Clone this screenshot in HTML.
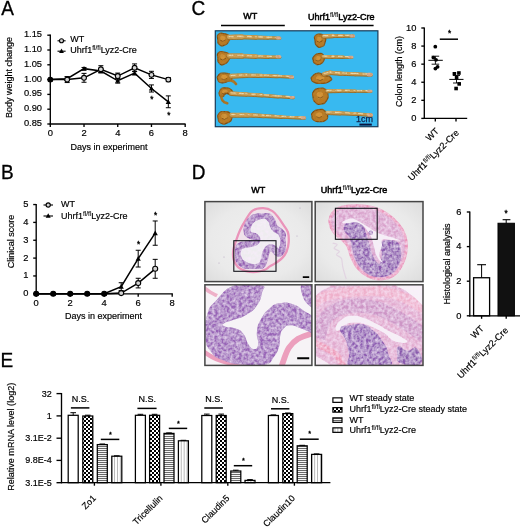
<!DOCTYPE html>
<html lang="en"><head><meta charset="utf-8"><title>Figure</title>
<style>html,body{margin:0;padding:0;background:#fff}svg{display:block}text{font-family:"Liberation Sans",Arial,sans-serif;fill:#000;stroke:#000;stroke-width:0.18px}</style></head><body>
<svg width="520" height="527" viewBox="0 0 520 527">
<defs>
<filter id="b05" x="-5%" y="-5%" width="110%" height="110%"><feGaussianBlur stdDeviation="0.45"/></filter>
<filter id="b08" x="-5%" y="-5%" width="110%" height="110%"><feGaussianBlur stdDeviation="0.7"/></filter>
<pattern id="pX" width="4" height="4" patternUnits="userSpaceOnUse"><rect width="4" height="4" fill="#fff"/><rect width="2" height="2" fill="#000"/><rect x="2" y="2" width="2" height="2" fill="#000"/></pattern>
<pattern id="pH" width="2" height="2" patternUnits="userSpaceOnUse"><rect width="2" height="2" fill="#f6f6f6"/><rect y="0" width="2" height="0.9" fill="#5a5a5a"/></pattern>
<pattern id="pV" width="2.9" height="2.9" patternUnits="userSpaceOnUse"><rect width="2.9" height="2.9" fill="#fff"/><path d="M1.45 0V2.9" stroke="#8a8a8a" stroke-width="0.6"/></pattern>
<filter id="texd" x="-3%" y="-3%" width="106%" height="106%"><feTurbulence type="fractalNoise" baseFrequency="0.4" numOctaves="2" seed="9" result="n"/><feColorMatrix in="n" type="matrix" values="0 0 0 0 0.45  0 0 0 0 0.24  0 0 0 0 0.04  1.2 0 0 0 -0.42" result="w"/><feComposite in="w" in2="SourceGraphic" operator="in" result="wi"/><feMerge><feMergeNode in="SourceGraphic"/><feMergeNode in="wi"/></feMerge><feGaussianBlur stdDeviation="0.5"/></filter>
<filter id="tex" x="-3%" y="-3%" width="106%" height="106%"><feTurbulence type="fractalNoise" baseFrequency="0.33" numOctaves="2" seed="4" result="n"/><feColorMatrix in="n" type="matrix" values="0 0 0 0 0.95  0 0 0 0 0.84  0 0 0 0 0.98  1.25 0 0 0 -0.36" result="w"/><feComposite in="w" in2="SourceGraphic" operator="in" result="wi"/><feMerge><feMergeNode in="SourceGraphic"/><feMergeNode in="wi"/></feMerge><feGaussianBlur stdDeviation="0.7"/></filter>
</defs>
<rect width="520" height="527" fill="#fff"/>
<text transform="translate(1.3 15.0) scale(0.97 1)" font-size="19.6" style="stroke-width:0.3px">A</text>
<line x1="50.30" y1="34.50" x2="50.30" y2="124.60" stroke="#000" stroke-width="1.35" />
<line x1="49.70" y1="124.00" x2="185.60" y2="124.00" stroke="#000" stroke-width="1.35" />
<line x1="47.30" y1="35.20" x2="50.30" y2="35.20" stroke="#000" stroke-width="1.35" />
<text x="42.0" y="37.20000000000002" text-anchor="end" font-size="9.3" >1.15</text>
<line x1="47.30" y1="50.00" x2="50.30" y2="50.00" stroke="#000" stroke-width="1.35" />
<text x="42.0" y="51.99999999999997" text-anchor="end" font-size="9.3" >1.10</text>
<line x1="47.30" y1="64.80" x2="50.30" y2="64.80" stroke="#000" stroke-width="1.35" />
<text x="42.0" y="66.79999999999998" text-anchor="end" font-size="9.3" >1.05</text>
<line x1="47.30" y1="79.60" x2="50.30" y2="79.60" stroke="#000" stroke-width="1.35" />
<text x="42.0" y="81.6" text-anchor="end" font-size="9.3" >1.00</text>
<line x1="47.30" y1="94.40" x2="50.30" y2="94.40" stroke="#000" stroke-width="1.35" />
<text x="42.0" y="96.4" text-anchor="end" font-size="9.3" >0.95</text>
<line x1="47.30" y1="109.20" x2="50.30" y2="109.20" stroke="#000" stroke-width="1.35" />
<text x="42.0" y="111.19999999999999" text-anchor="end" font-size="9.3" >0.90</text>
<line x1="47.30" y1="124.00" x2="50.30" y2="124.00" stroke="#000" stroke-width="1.35" />
<text x="42.0" y="126.0" text-anchor="end" font-size="9.3" >0.85</text>
<line x1="50.30" y1="124.00" x2="50.30" y2="127.00" stroke="#000" stroke-width="1.35" />
<text x="50.3" y="135.6" text-anchor="middle" font-size="9.4" >0</text>
<line x1="84.02" y1="124.00" x2="84.02" y2="127.00" stroke="#000" stroke-width="1.35" />
<text x="84.02" y="135.6" text-anchor="middle" font-size="9.4" >2</text>
<line x1="117.74" y1="124.00" x2="117.74" y2="127.00" stroke="#000" stroke-width="1.35" />
<text x="117.74" y="135.6" text-anchor="middle" font-size="9.4" >4</text>
<line x1="151.46" y1="124.00" x2="151.46" y2="127.00" stroke="#000" stroke-width="1.35" />
<text x="151.45999999999998" y="135.6" text-anchor="middle" font-size="9.4" >6</text>
<line x1="185.18" y1="124.00" x2="185.18" y2="127.00" stroke="#000" stroke-width="1.35" />
<text x="185.18" y="135.6" text-anchor="middle" font-size="9.4" >8</text>
<text transform="translate(12.0 77.4) rotate(-90)" text-anchor="middle" font-size="9" >Body weight change</text>
<text x="109" y="149.6" text-anchor="middle" font-size="9" >Days in experiment</text>
<polyline fill="none" stroke="#000" stroke-width="1.5" points="50.30,79.60 67.16,78.71 84.02,68.65 100.88,71.02 117.74,80.78 134.60,73.09 151.46,88.48 168.32,101.80"/>
<polyline fill="none" stroke="#000" stroke-width="1.5" points="50.30,79.60 67.16,79.60 84.02,77.82 100.88,69.24 117.74,76.05 134.60,67.76 151.46,74.86 168.32,79.60"/>
<line x1="67.16" y1="76.94" x2="67.16" y2="80.49" stroke="#000" stroke-width="1.0" />
<line x1="64.66" y1="76.94" x2="69.66" y2="76.94" stroke="#000" stroke-width="1.0" />
<line x1="64.66" y1="80.49" x2="69.66" y2="80.49" stroke="#000" stroke-width="1.0" />
<line x1="67.16" y1="76.64" x2="67.16" y2="82.56" stroke="#000" stroke-width="1.0" />
<line x1="64.66" y1="76.64" x2="69.66" y2="76.64" stroke="#000" stroke-width="1.0" />
<line x1="64.66" y1="82.56" x2="69.66" y2="82.56" stroke="#000" stroke-width="1.0" />
<line x1="84.02" y1="67.46" x2="84.02" y2="69.83" stroke="#000" stroke-width="1.0" />
<line x1="81.52" y1="67.46" x2="86.52" y2="67.46" stroke="#000" stroke-width="1.0" />
<line x1="81.52" y1="69.83" x2="86.52" y2="69.83" stroke="#000" stroke-width="1.0" />
<line x1="84.02" y1="73.38" x2="84.02" y2="82.26" stroke="#000" stroke-width="1.0" />
<line x1="81.52" y1="73.38" x2="86.52" y2="73.38" stroke="#000" stroke-width="1.0" />
<line x1="81.52" y1="82.26" x2="86.52" y2="82.26" stroke="#000" stroke-width="1.0" />
<line x1="100.88" y1="69.24" x2="100.88" y2="72.79" stroke="#000" stroke-width="1.0" />
<line x1="98.38" y1="69.24" x2="103.38" y2="69.24" stroke="#000" stroke-width="1.0" />
<line x1="98.38" y1="72.79" x2="103.38" y2="72.79" stroke="#000" stroke-width="1.0" />
<line x1="100.88" y1="65.69" x2="100.88" y2="72.79" stroke="#000" stroke-width="1.0" />
<line x1="98.38" y1="65.69" x2="103.38" y2="65.69" stroke="#000" stroke-width="1.0" />
<line x1="98.38" y1="72.79" x2="103.38" y2="72.79" stroke="#000" stroke-width="1.0" />
<line x1="117.74" y1="78.42" x2="117.74" y2="83.15" stroke="#000" stroke-width="1.0" />
<line x1="115.24" y1="78.42" x2="120.24" y2="78.42" stroke="#000" stroke-width="1.0" />
<line x1="115.24" y1="83.15" x2="120.24" y2="83.15" stroke="#000" stroke-width="1.0" />
<line x1="117.74" y1="73.09" x2="117.74" y2="79.01" stroke="#000" stroke-width="1.0" />
<line x1="115.24" y1="73.09" x2="120.24" y2="73.09" stroke="#000" stroke-width="1.0" />
<line x1="115.24" y1="79.01" x2="120.24" y2="79.01" stroke="#000" stroke-width="1.0" />
<line x1="134.60" y1="71.31" x2="134.60" y2="74.86" stroke="#000" stroke-width="1.0" />
<line x1="132.10" y1="71.31" x2="137.10" y2="71.31" stroke="#000" stroke-width="1.0" />
<line x1="132.10" y1="74.86" x2="137.10" y2="74.86" stroke="#000" stroke-width="1.0" />
<line x1="134.60" y1="63.91" x2="134.60" y2="71.61" stroke="#000" stroke-width="1.0" />
<line x1="132.10" y1="63.91" x2="137.10" y2="63.91" stroke="#000" stroke-width="1.0" />
<line x1="132.10" y1="71.61" x2="137.10" y2="71.61" stroke="#000" stroke-width="1.0" />
<line x1="151.46" y1="84.93" x2="151.46" y2="92.03" stroke="#000" stroke-width="1.0" />
<line x1="148.96" y1="84.93" x2="153.96" y2="84.93" stroke="#000" stroke-width="1.0" />
<line x1="148.96" y1="92.03" x2="153.96" y2="92.03" stroke="#000" stroke-width="1.0" />
<line x1="151.46" y1="71.31" x2="151.46" y2="78.42" stroke="#000" stroke-width="1.0" />
<line x1="148.96" y1="71.31" x2="153.96" y2="71.31" stroke="#000" stroke-width="1.0" />
<line x1="148.96" y1="78.42" x2="153.96" y2="78.42" stroke="#000" stroke-width="1.0" />
<line x1="168.32" y1="95.88" x2="168.32" y2="107.72" stroke="#000" stroke-width="1.0" />
<line x1="165.82" y1="95.88" x2="170.82" y2="95.88" stroke="#000" stroke-width="1.0" />
<line x1="165.82" y1="107.72" x2="170.82" y2="107.72" stroke="#000" stroke-width="1.0" />
<line x1="168.32" y1="77.53" x2="168.32" y2="81.67" stroke="#000" stroke-width="1.0" />
<line x1="165.82" y1="77.53" x2="170.82" y2="77.53" stroke="#000" stroke-width="1.0" />
<line x1="165.82" y1="81.67" x2="170.82" y2="81.67" stroke="#000" stroke-width="1.0" />
<path d="M50.30 77.00 L52.90 81.68 L47.70 81.68Z" fill="#000"/>
<path d="M67.16 76.11 L69.76 80.79 L64.56 80.79Z" fill="#000"/>
<path d="M84.02 66.05 L86.62 70.73 L81.42 70.73Z" fill="#000"/>
<path d="M100.88 68.42 L103.48 73.10 L98.28 73.10Z" fill="#000"/>
<path d="M117.74 78.18 L120.34 82.86 L115.14 82.86Z" fill="#000"/>
<path d="M134.60 70.49 L137.20 75.17 L132.00 75.17Z" fill="#000"/>
<path d="M151.46 85.88 L154.06 90.56 L148.86 90.56Z" fill="#000"/>
<path d="M168.32 99.20 L170.92 103.88 L165.72 103.88Z" fill="#000"/>
<circle cx="50.30" cy="79.60" r="2.4" fill="#000" stroke="#000" stroke-width="1.1"/>
<circle cx="67.16" cy="79.60" r="2.4" fill="#d4d4d4" stroke="#000" stroke-width="1.1"/>
<circle cx="84.02" cy="77.82" r="2.4" fill="#d4d4d4" stroke="#000" stroke-width="1.1"/>
<circle cx="100.88" cy="69.24" r="2.4" fill="#d4d4d4" stroke="#000" stroke-width="1.1"/>
<circle cx="117.74" cy="76.05" r="2.4" fill="#d4d4d4" stroke="#000" stroke-width="1.1"/>
<circle cx="134.60" cy="67.76" r="2.4" fill="#d4d4d4" stroke="#000" stroke-width="1.1"/>
<circle cx="151.46" cy="74.86" r="2.4" fill="#d4d4d4" stroke="#000" stroke-width="1.1"/>
<circle cx="168.32" cy="79.60" r="2.4" fill="#d4d4d4" stroke="#000" stroke-width="1.1"/>
<text x="151.86" y="101.50" text-anchor="middle" font-size="8.2" style="stroke-width:0.35px">*</text>
<text x="168.72" y="117.50" text-anchor="middle" font-size="8.2" style="stroke-width:0.35px">*</text>
<line x1="57.50" y1="40.80" x2="65.60" y2="40.80" stroke="#000" stroke-width="1.1" />
<circle cx="61.50" cy="40.80" r="2.0" fill="#d4d4d4" stroke="#000" stroke-width="1.1"/>
<line x1="57.50" y1="51.20" x2="65.60" y2="51.20" stroke="#000" stroke-width="1.1" />
<path d="M61.50 48.60 L63.90 52.92 L59.10 52.92Z" fill="#000"/>
<text x="70.3" y="42.4" text-anchor="start" font-size="9" >WT</text>
<text x="70.3" y="53.0" text-anchor="start" font-size="9" >Uhrf1<tspan dy="-3.1" font-size="6.5" style="stroke-width:0.08px">fl/fl</tspan><tspan dy="3.1">Lyz2-Cre</tspan></text>
<text transform="translate(1.0 178.7) scale(0.97 1)" font-size="19.6" style="stroke-width:0.3px">B</text>
<line x1="36.20" y1="203.95" x2="36.20" y2="294.40" stroke="#000" stroke-width="1.35" />
<line x1="35.60" y1="293.80" x2="172.80" y2="293.80" stroke="#000" stroke-width="1.35" />
<line x1="33.20" y1="293.80" x2="36.20" y2="293.80" stroke="#000" stroke-width="1.35" />
<text x="28.4" y="296.3" text-anchor="end" font-size="9.3" >0</text>
<line x1="33.20" y1="275.95" x2="36.20" y2="275.95" stroke="#000" stroke-width="1.35" />
<text x="28.4" y="278.45" text-anchor="end" font-size="9.3" >1</text>
<line x1="33.20" y1="258.10" x2="36.20" y2="258.10" stroke="#000" stroke-width="1.35" />
<text x="28.4" y="260.6" text-anchor="end" font-size="9.3" >2</text>
<line x1="33.20" y1="240.25" x2="36.20" y2="240.25" stroke="#000" stroke-width="1.35" />
<text x="28.4" y="242.75" text-anchor="end" font-size="9.3" >3</text>
<line x1="33.20" y1="222.40" x2="36.20" y2="222.40" stroke="#000" stroke-width="1.35" />
<text x="28.4" y="224.9" text-anchor="end" font-size="9.3" >4</text>
<line x1="33.20" y1="204.55" x2="36.20" y2="204.55" stroke="#000" stroke-width="1.35" />
<text x="28.4" y="207.05" text-anchor="end" font-size="9.3" >5</text>
<line x1="36.20" y1="293.80" x2="36.20" y2="296.80" stroke="#000" stroke-width="1.35" />
<text x="36.2" y="305.9" text-anchor="middle" font-size="9.4" >0</text>
<line x1="70.20" y1="293.80" x2="70.20" y2="296.80" stroke="#000" stroke-width="1.35" />
<text x="70.2" y="305.9" text-anchor="middle" font-size="9.4" >2</text>
<line x1="104.20" y1="293.80" x2="104.20" y2="296.80" stroke="#000" stroke-width="1.35" />
<text x="104.2" y="305.9" text-anchor="middle" font-size="9.4" >4</text>
<line x1="138.20" y1="293.80" x2="138.20" y2="296.80" stroke="#000" stroke-width="1.35" />
<text x="138.2" y="305.9" text-anchor="middle" font-size="9.4" >6</text>
<line x1="172.20" y1="293.80" x2="172.20" y2="296.80" stroke="#000" stroke-width="1.35" />
<text x="172.2" y="305.9" text-anchor="middle" font-size="9.4" >8</text>
<text transform="translate(14.2 241.6) rotate(-90)" text-anchor="middle" font-size="9" >Clinical score</text>
<text x="103.5" y="319.0" text-anchor="middle" font-size="9" >Days in experiment</text>
<polyline fill="none" stroke="#000" stroke-width="1.5" points="36.20,293.80 53.20,293.80 70.20,293.80 87.20,293.80 104.20,293.80 121.20,286.66 138.20,258.64 155.20,233.11"/>
<polyline fill="none" stroke="#000" stroke-width="1.5" points="36.20,293.80 53.20,293.80 70.20,293.80 87.20,293.80 104.20,293.80 121.20,293.09 138.20,283.09 155.20,268.81"/>
<line x1="121.20" y1="282.73" x2="121.20" y2="290.59" stroke="#000" stroke-width="1.0" />
<line x1="118.70" y1="282.73" x2="123.70" y2="282.73" stroke="#000" stroke-width="1.0" />
<line x1="118.70" y1="290.59" x2="123.70" y2="290.59" stroke="#000" stroke-width="1.0" />
<line x1="138.20" y1="250.25" x2="138.20" y2="267.02" stroke="#000" stroke-width="1.0" />
<line x1="135.70" y1="250.25" x2="140.70" y2="250.25" stroke="#000" stroke-width="1.0" />
<line x1="135.70" y1="267.02" x2="140.70" y2="267.02" stroke="#000" stroke-width="1.0" />
<line x1="138.20" y1="278.27" x2="138.20" y2="287.91" stroke="#000" stroke-width="1.0" />
<line x1="135.70" y1="278.27" x2="140.70" y2="278.27" stroke="#000" stroke-width="1.0" />
<line x1="135.70" y1="287.91" x2="140.70" y2="287.91" stroke="#000" stroke-width="1.0" />
<line x1="155.20" y1="220.97" x2="155.20" y2="245.25" stroke="#000" stroke-width="1.0" />
<line x1="152.70" y1="220.97" x2="157.70" y2="220.97" stroke="#000" stroke-width="1.0" />
<line x1="152.70" y1="245.25" x2="157.70" y2="245.25" stroke="#000" stroke-width="1.0" />
<line x1="155.20" y1="259.35" x2="155.20" y2="278.27" stroke="#000" stroke-width="1.0" />
<line x1="152.70" y1="259.35" x2="157.70" y2="259.35" stroke="#000" stroke-width="1.0" />
<line x1="152.70" y1="278.27" x2="157.70" y2="278.27" stroke="#000" stroke-width="1.0" />
<path d="M36.20 291.20 L38.80 295.88 L33.60 295.88Z" fill="#000"/>
<path d="M53.20 291.20 L55.80 295.88 L50.60 295.88Z" fill="#000"/>
<path d="M70.20 291.20 L72.80 295.88 L67.60 295.88Z" fill="#000"/>
<path d="M87.20 291.20 L89.80 295.88 L84.60 295.88Z" fill="#000"/>
<path d="M104.20 291.20 L106.80 295.88 L101.60 295.88Z" fill="#000"/>
<path d="M121.20 284.06 L123.80 288.74 L118.60 288.74Z" fill="#000"/>
<path d="M138.20 256.04 L140.80 260.72 L135.60 260.72Z" fill="#000"/>
<path d="M155.20 230.51 L157.80 235.19 L152.60 235.19Z" fill="#000"/>
<circle cx="36.20" cy="293.80" r="2.5" fill="#000" stroke="#000" stroke-width="1.1"/>
<circle cx="53.20" cy="293.80" r="2.5" fill="#000" stroke="#000" stroke-width="1.1"/>
<circle cx="70.20" cy="293.80" r="2.5" fill="#000" stroke="#000" stroke-width="1.1"/>
<circle cx="87.20" cy="293.80" r="2.5" fill="#000" stroke="#000" stroke-width="1.1"/>
<circle cx="104.20" cy="293.80" r="2.5" fill="#000" stroke="#000" stroke-width="1.1"/>
<circle cx="121.20" cy="293.09" r="2.5" fill="#d4d4d4" stroke="#000" stroke-width="1.1"/>
<circle cx="138.20" cy="283.09" r="2.5" fill="#d4d4d4" stroke="#000" stroke-width="1.1"/>
<circle cx="155.20" cy="268.81" r="2.5" fill="#d4d4d4" stroke="#000" stroke-width="1.1"/>
<text x="138.60" y="247.30" text-anchor="middle" font-size="8.2" style="stroke-width:0.35px">*</text>
<text x="155.60" y="218.20" text-anchor="middle" font-size="8.2" style="stroke-width:0.35px">*</text>
<line x1="43.50" y1="205.00" x2="53.00" y2="205.00" stroke="#000" stroke-width="1.1" />
<circle cx="48.20" cy="205.00" r="2.1" fill="#d4d4d4" stroke="#000" stroke-width="1.1"/>
<line x1="43.50" y1="216.00" x2="53.00" y2="216.00" stroke="#000" stroke-width="1.1" />
<path d="M48.20 213.30 L50.70 217.80 L45.70 217.80Z" fill="#000"/>
<text x="61.0" y="207.2" text-anchor="start" font-size="9" >WT</text>
<text x="61.0" y="218.8" text-anchor="start" font-size="9" >Uhrf1<tspan dy="-3.1" font-size="6.5" style="stroke-width:0.08px">fl/fl</tspan><tspan dy="3.1">Lyz2-Cre</tspan></text>
<text transform="translate(191.6 15.2) scale(0.97 1)" font-size="19.6" style="stroke-width:0.3px">C</text>
<text x="250.3" y="19.4" text-anchor="middle" font-size="9" style="stroke-width:0.5px">WT</text>
<text x="341.2" y="19.9" text-anchor="middle" font-size="9" style="stroke-width:0.5px">Uhrf1<tspan dy="-3.1" font-size="6.5" style="stroke-width:0.08px">fl/fl</tspan><tspan dy="3.1">Lyz2-Cre</tspan></text>
<line x1="221.00" y1="25.40" x2="284.80" y2="25.40" stroke="#000" stroke-width="1.5" />
<line x1="310.00" y1="25.50" x2="373.60" y2="25.50" stroke="#000" stroke-width="1.5" />
<rect x="215.3" y="30.8" width="162.6" height="95.9" fill="#38b9f0" stroke="#173a58" stroke-width="1.2"/>
<g filter="url(#texd)">
<path d="M218.4 34.4C220.5 32.5 220.3 32.9 224.0 33.6C227.7 34.3 228.1 34.0 229.6 36.6C231.1 39.2 230.3 38.5 228.6 41.4C226.9 44.3 227.5 44.2 224.4 45.2C221.3 46.2 221.4 46.3 219.2 44.4C217.0 42.5 218.1 42.7 217.8 39.4C217.5 36.1 216.3 36.3 218.4 34.4Z" fill="#b97824" stroke="#7e4c18" stroke-width="1.2" stroke-linejoin="round"/>
<path d="M220.7 36.4C221.5 35.6 221.4 35.8 223.0 36.1C224.6 36.4 224.7 36.3 225.4 37.4C226.0 38.4 225.7 38.2 224.9 39.4C224.2 40.6 224.5 40.5 223.2 41.0C221.9 41.4 221.9 41.4 221.0 40.6C220.1 39.8 220.5 39.9 220.4 38.5C220.3 37.1 219.8 37.2 220.7 36.4Z" fill="#d59438"/>
<path d="M220.5 40.5 Q222.7 42.7 225.5 40.1" fill="none" stroke="#7a4814" stroke-width="0.9" stroke-linecap="round"/>
<line x1="229" y1="37.550000000000004" x2="242" y2="37.15" stroke="#9a6c2a" stroke-width="5.10" stroke-linecap="round"/>
<line x1="242" y1="37.15" x2="256" y2="37.550000000000004" stroke="#9a6c2a" stroke-width="4.40" stroke-linecap="round"/>
<line x1="256" y1="37.550000000000004" x2="268" y2="37.95" stroke="#9a6c2a" stroke-width="3.70" stroke-linecap="round"/>
<line x1="268" y1="37.95" x2="279.8" y2="38.35" stroke="#9a6c2a" stroke-width="3.00" stroke-linecap="round"/>
<line x1="229" y1="36.95" x2="242" y2="36.55" stroke="#cfa45c" stroke-width="4.30" stroke-linecap="round"/>
<line x1="242" y1="36.55" x2="256" y2="36.95" stroke="#cfa45c" stroke-width="3.60" stroke-linecap="round"/>
<line x1="256" y1="36.95" x2="268" y2="37.35" stroke="#cfa45c" stroke-width="2.90" stroke-linecap="round"/>
<line x1="268" y1="37.35" x2="279.8" y2="37.75" stroke="#cfa45c" stroke-width="2.20" stroke-linecap="round"/>
<line x1="229" y1="36.7" x2="242" y2="36.3" stroke="#ead7aa" stroke-width="1.2" stroke-dasharray="4 4.5" stroke-dashoffset="0" stroke-linecap="round"/>
<line x1="242" y1="36.3" x2="256" y2="36.7" stroke="#ead7aa" stroke-width="1.2" stroke-dasharray="4 4.5" stroke-dashoffset="3" stroke-linecap="round"/>
<line x1="256" y1="36.7" x2="268" y2="37.1" stroke="#ead7aa" stroke-width="1.2" stroke-dasharray="4 4.5" stroke-dashoffset="6" stroke-linecap="round"/>
<line x1="268" y1="37.1" x2="279.8" y2="37.5" stroke="#ead7aa" stroke-width="1.2" stroke-dasharray="4 4.5" stroke-dashoffset="9" stroke-linecap="round"/>
<line x1="277.3" y1="38.0" x2="279.8" y2="38.0" stroke="#dcae94" stroke-width="3.00" stroke-linecap="round"/>
<path d="M218.4 52.8C220.5 50.8 220.3 51.3 224.0 52.0C227.7 52.7 228.1 52.3 229.6 55.0C231.1 57.7 230.4 57.1 228.6 60.2C226.8 63.3 227.3 63.2 224.2 64.2C221.1 65.2 221.3 65.3 219.2 63.2C217.1 61.1 218.1 61.5 217.8 58.0C217.5 54.5 216.3 54.8 218.4 52.8Z" fill="#b97824" stroke="#7e4c18" stroke-width="1.2" stroke-linejoin="round"/>
<path d="M220.6 55.0C221.5 54.1 221.4 54.3 223.0 54.6C224.6 54.9 224.7 54.7 225.3 55.9C226.0 57.0 225.7 56.8 224.9 58.1C224.2 59.4 224.4 59.3 223.1 59.8C221.8 60.2 221.9 60.2 221.0 59.3C220.1 58.5 220.5 58.6 220.4 57.2C220.3 55.7 219.8 55.8 220.6 55.0Z" fill="#d59438"/>
<path d="M220.5 59.1 Q222.7 61.3 225.5 58.7" fill="none" stroke="#7a4814" stroke-width="0.9" stroke-linecap="round"/>
<line x1="229" y1="56.15" x2="242" y2="56.15" stroke="#9a6c2a" stroke-width="5.10" stroke-linecap="round"/>
<line x1="242" y1="56.15" x2="256" y2="56.75" stroke="#9a6c2a" stroke-width="4.40" stroke-linecap="round"/>
<line x1="256" y1="56.75" x2="268" y2="57.15" stroke="#9a6c2a" stroke-width="3.70" stroke-linecap="round"/>
<line x1="268" y1="57.15" x2="279.8" y2="57.15" stroke="#9a6c2a" stroke-width="3.00" stroke-linecap="round"/>
<line x1="229" y1="55.55" x2="242" y2="55.55" stroke="#cfa45c" stroke-width="4.30" stroke-linecap="round"/>
<line x1="242" y1="55.55" x2="256" y2="56.15" stroke="#cfa45c" stroke-width="3.60" stroke-linecap="round"/>
<line x1="256" y1="56.15" x2="268" y2="56.55" stroke="#cfa45c" stroke-width="2.90" stroke-linecap="round"/>
<line x1="268" y1="56.55" x2="279.8" y2="56.55" stroke="#cfa45c" stroke-width="2.20" stroke-linecap="round"/>
<line x1="229" y1="55.3" x2="242" y2="55.3" stroke="#ead7aa" stroke-width="1.2" stroke-dasharray="4 4.5" stroke-dashoffset="0" stroke-linecap="round"/>
<line x1="242" y1="55.3" x2="256" y2="55.9" stroke="#ead7aa" stroke-width="1.2" stroke-dasharray="4 4.5" stroke-dashoffset="3" stroke-linecap="round"/>
<line x1="256" y1="55.9" x2="268" y2="56.3" stroke="#ead7aa" stroke-width="1.2" stroke-dasharray="4 4.5" stroke-dashoffset="6" stroke-linecap="round"/>
<line x1="268" y1="56.3" x2="279.8" y2="56.3" stroke="#ead7aa" stroke-width="1.2" stroke-dasharray="4 4.5" stroke-dashoffset="9" stroke-linecap="round"/>
<line x1="277.3" y1="56.8" x2="279.8" y2="56.8" stroke="#dcae94" stroke-width="3.00" stroke-linecap="round"/>
<path d="M218.6 75.0C220.7 72.9 219.9 73.3 224.0 73.2C228.1 73.1 228.3 73.0 231.0 74.8C233.7 76.6 233.3 76.3 232.0 78.6C230.7 80.9 230.7 80.3 227.0 81.6C223.3 82.9 224.1 83.3 221.0 82.6C217.9 81.9 218.6 82.1 217.8 79.6C217.0 77.1 216.5 77.1 218.6 75.0Z" fill="#b97824" stroke="#7e4c18" stroke-width="1.2" stroke-linejoin="round"/>
<path d="M221.5 75.9C222.4 75.0 222.0 75.2 223.8 75.1C225.5 75.1 225.6 75.1 226.7 75.8C227.8 76.6 227.7 76.5 227.1 77.4C226.6 78.4 226.6 78.1 225.0 78.7C223.5 79.2 223.8 79.4 222.5 79.1C221.2 78.8 221.5 78.9 221.2 77.8C220.8 76.8 220.6 76.8 221.5 75.9Z" fill="#d59438"/>
<path d="M221.9 79.1 Q224.1 81.3 226.9 78.7" fill="none" stroke="#7a4814" stroke-width="0.9" stroke-linecap="round"/>
<path d="M226 80.4 Q232.4 79.2 236 84" fill="none" stroke="#a86f24" stroke-width="2.6" stroke-linecap="round"/>
<line x1="231" y1="76.35" x2="246" y2="75.75" stroke="#9a6c2a" stroke-width="4.70" stroke-linecap="round"/>
<line x1="246" y1="75.75" x2="262" y2="75.94999999999999" stroke="#9a6c2a" stroke-width="4.13" stroke-linecap="round"/>
<line x1="262" y1="75.94999999999999" x2="278" y2="76.55" stroke="#9a6c2a" stroke-width="3.57" stroke-linecap="round"/>
<line x1="278" y1="76.55" x2="292.6" y2="77.35" stroke="#9a6c2a" stroke-width="3.00" stroke-linecap="round"/>
<line x1="231" y1="75.75" x2="246" y2="75.15" stroke="#cfa45c" stroke-width="3.90" stroke-linecap="round"/>
<line x1="246" y1="75.15" x2="262" y2="75.35" stroke="#cfa45c" stroke-width="3.33" stroke-linecap="round"/>
<line x1="262" y1="75.35" x2="278" y2="75.95" stroke="#cfa45c" stroke-width="2.77" stroke-linecap="round"/>
<line x1="278" y1="75.95" x2="292.6" y2="76.75" stroke="#cfa45c" stroke-width="2.20" stroke-linecap="round"/>
<line x1="231" y1="75.5" x2="246" y2="74.9" stroke="#ead7aa" stroke-width="1.2" stroke-dasharray="4 4.5" stroke-dashoffset="0" stroke-linecap="round"/>
<line x1="246" y1="74.9" x2="262" y2="75.1" stroke="#ead7aa" stroke-width="1.2" stroke-dasharray="4 4.5" stroke-dashoffset="3" stroke-linecap="round"/>
<line x1="262" y1="75.1" x2="278" y2="75.7" stroke="#ead7aa" stroke-width="1.2" stroke-dasharray="4 4.5" stroke-dashoffset="6" stroke-linecap="round"/>
<line x1="278" y1="75.7" x2="292.6" y2="76.5" stroke="#ead7aa" stroke-width="1.2" stroke-dasharray="4 4.5" stroke-dashoffset="9" stroke-linecap="round"/>
<line x1="290.1" y1="77.0" x2="292.6" y2="77.0" stroke="#dcae94" stroke-width="3.00" stroke-linecap="round"/>
<path d="M220.2 90.0C222.0 87.5 221.3 87.9 225.0 87.8C228.7 87.7 229.4 87.8 231.4 89.8C233.4 91.8 233.0 92.5 231.0 93.8C229.0 95.1 228.0 92.7 225.4 93.6C222.8 94.5 225.1 95.8 223.2 96.4C221.3 97.0 220.6 97.5 219.6 95.4C218.6 93.3 218.4 92.5 220.2 90.0Z" fill="#b97824" stroke="#7e4c18" stroke-width="1.2" stroke-linejoin="round"/>
<path d="M222.6 90.6C223.3 89.5 223.0 89.7 224.6 89.7C226.1 89.6 226.4 89.7 227.3 90.5C228.1 91.3 227.9 91.7 227.1 92.2C226.2 92.7 225.8 91.7 224.7 92.1C223.6 92.5 224.6 93.0 223.8 93.3C223.0 93.5 222.7 93.8 222.3 92.9C221.9 92.0 221.8 91.7 222.6 90.6Z" fill="#d59438"/>
<path d="M222.5 93.6 Q224.7 95.8 227.5 93.2" fill="none" stroke="#7a4814" stroke-width="0.9" stroke-linecap="round"/>
<path d="M221.4 95 Q220.6 102 227.2 103.2" fill="none" stroke="#a86f24" stroke-width="2.6" stroke-linecap="round"/>
<line x1="231" y1="93.75" x2="246" y2="94.55" stroke="#9a6c2a" stroke-width="4.30" stroke-linecap="round"/>
<line x1="246" y1="94.55" x2="262" y2="95.55" stroke="#9a6c2a" stroke-width="3.80" stroke-linecap="round"/>
<line x1="262" y1="95.55" x2="278" y2="96.75" stroke="#9a6c2a" stroke-width="3.30" stroke-linecap="round"/>
<line x1="278" y1="96.75" x2="293.4" y2="97.75" stroke="#9a6c2a" stroke-width="2.80" stroke-linecap="round"/>
<line x1="231" y1="93.15" x2="246" y2="93.95" stroke="#cfa45c" stroke-width="3.50" stroke-linecap="round"/>
<line x1="246" y1="93.95" x2="262" y2="94.95" stroke="#cfa45c" stroke-width="3.00" stroke-linecap="round"/>
<line x1="262" y1="94.95" x2="278" y2="96.15" stroke="#cfa45c" stroke-width="2.50" stroke-linecap="round"/>
<line x1="278" y1="96.15" x2="293.4" y2="97.15" stroke="#cfa45c" stroke-width="2.00" stroke-linecap="round"/>
<line x1="231" y1="92.9" x2="246" y2="93.7" stroke="#ead7aa" stroke-width="1.2" stroke-dasharray="4 4.5" stroke-dashoffset="0" stroke-linecap="round"/>
<line x1="246" y1="93.7" x2="262" y2="94.7" stroke="#ead7aa" stroke-width="1.2" stroke-dasharray="4 4.5" stroke-dashoffset="3" stroke-linecap="round"/>
<line x1="262" y1="94.7" x2="278" y2="95.9" stroke="#ead7aa" stroke-width="1.2" stroke-dasharray="4 4.5" stroke-dashoffset="6" stroke-linecap="round"/>
<line x1="278" y1="95.9" x2="293.4" y2="96.9" stroke="#ead7aa" stroke-width="1.2" stroke-dasharray="4 4.5" stroke-dashoffset="9" stroke-linecap="round"/>
<line x1="290.9" y1="97.4" x2="293.4" y2="97.4" stroke="#dcae94" stroke-width="2.80" stroke-linecap="round"/>
<path d="M219.0 113.4C221.1 111.1 220.7 111.5 224.6 111.6C228.5 111.7 228.4 111.3 230.8 113.6C233.2 115.9 232.9 115.3 231.8 118.4C230.7 121.5 231.2 121.2 227.6 122.8C224.0 124.4 224.1 124.6 221.0 123.2C217.9 121.8 218.9 121.9 218.2 118.6C217.5 115.3 216.9 115.7 219.0 113.4Z" fill="#b97824" stroke="#7e4c18" stroke-width="1.2" stroke-linejoin="round"/>
<path d="M221.8 114.9C222.7 113.9 222.5 114.1 224.2 114.1C225.8 114.2 225.8 114.0 226.8 115.0C227.8 115.9 227.6 115.7 227.2 117.0C226.7 118.3 226.9 118.2 225.4 118.9C223.9 119.5 224.0 119.6 222.7 119.0C221.3 118.4 221.8 118.5 221.5 117.1C221.2 115.7 220.9 115.9 221.8 114.9Z" fill="#d59438"/>
<path d="M222.1 118.6 Q224.3 120.8 227.1 118.2" fill="none" stroke="#7a4814" stroke-width="0.9" stroke-linecap="round"/>
<line x1="231.4" y1="115.35" x2="248" y2="115.35" stroke="#9a6c2a" stroke-width="4.70" stroke-linecap="round"/>
<line x1="248" y1="115.35" x2="264" y2="116.14999999999999" stroke="#9a6c2a" stroke-width="4.13" stroke-linecap="round"/>
<line x1="264" y1="116.14999999999999" x2="282" y2="117.14999999999999" stroke="#9a6c2a" stroke-width="3.57" stroke-linecap="round"/>
<line x1="282" y1="117.14999999999999" x2="304.6" y2="118.14999999999999" stroke="#9a6c2a" stroke-width="3.00" stroke-linecap="round"/>
<line x1="231.4" y1="114.75" x2="248" y2="114.75" stroke="#cfa45c" stroke-width="3.90" stroke-linecap="round"/>
<line x1="248" y1="114.75" x2="264" y2="115.55" stroke="#cfa45c" stroke-width="3.33" stroke-linecap="round"/>
<line x1="264" y1="115.55" x2="282" y2="116.55" stroke="#cfa45c" stroke-width="2.77" stroke-linecap="round"/>
<line x1="282" y1="116.55" x2="304.6" y2="117.55" stroke="#cfa45c" stroke-width="2.20" stroke-linecap="round"/>
<line x1="231.4" y1="114.5" x2="248" y2="114.5" stroke="#ead7aa" stroke-width="1.2" stroke-dasharray="4 4.5" stroke-dashoffset="0" stroke-linecap="round"/>
<line x1="248" y1="114.5" x2="264" y2="115.3" stroke="#ead7aa" stroke-width="1.2" stroke-dasharray="4 4.5" stroke-dashoffset="3" stroke-linecap="round"/>
<line x1="264" y1="115.3" x2="282" y2="116.3" stroke="#ead7aa" stroke-width="1.2" stroke-dasharray="4 4.5" stroke-dashoffset="6" stroke-linecap="round"/>
<line x1="282" y1="116.3" x2="304.6" y2="117.3" stroke="#ead7aa" stroke-width="1.2" stroke-dasharray="4 4.5" stroke-dashoffset="9" stroke-linecap="round"/>
<line x1="302.1" y1="117.8" x2="304.6" y2="117.8" stroke="#dcae94" stroke-width="3.00" stroke-linecap="round"/>
<path d="M315.2 35.8C316.9 33.7 316.9 34.0 320.0 34.2C323.1 34.4 322.9 33.7 324.6 36.4C326.3 39.1 326.1 38.9 325.0 42.4C323.9 45.9 324.2 45.7 321.4 46.8C318.6 47.9 318.7 47.7 316.6 45.6C314.5 43.5 315.5 43.7 315.0 40.4C314.5 37.1 313.5 37.9 315.2 35.8Z" fill="#b97824" stroke="#7e4c18" stroke-width="1.2" stroke-linejoin="round"/>
<path d="M317.3 37.6C318.0 36.7 318.0 36.8 319.3 36.9C320.6 37.0 320.5 36.7 321.2 37.8C321.9 39.0 321.9 38.9 321.4 40.3C321.0 41.8 321.1 41.7 319.9 42.2C318.7 42.6 318.8 42.6 317.9 41.7C317.0 40.8 317.4 40.9 317.2 39.5C317.0 38.1 316.6 38.4 317.3 37.6Z" fill="#d59438"/>
<path d="M317.1 41.4 Q319.3 43.6 322.1 41.0" fill="none" stroke="#7a4814" stroke-width="0.9" stroke-linecap="round"/>
<line x1="323.6" y1="36.550000000000004" x2="333" y2="36.15" stroke="#9a6c2a" stroke-width="4.30" stroke-linecap="round"/>
<line x1="333" y1="36.15" x2="343" y2="36.15" stroke="#9a6c2a" stroke-width="3.65" stroke-linecap="round"/>
<line x1="343" y1="36.15" x2="353.6" y2="36.25" stroke="#9a6c2a" stroke-width="3.00" stroke-linecap="round"/>
<line x1="323.6" y1="35.95" x2="333" y2="35.55" stroke="#cfa45c" stroke-width="3.50" stroke-linecap="round"/>
<line x1="333" y1="35.55" x2="343" y2="35.55" stroke="#cfa45c" stroke-width="2.85" stroke-linecap="round"/>
<line x1="343" y1="35.55" x2="353.6" y2="35.65" stroke="#cfa45c" stroke-width="2.20" stroke-linecap="round"/>
<line x1="323.6" y1="35.7" x2="333" y2="35.3" stroke="#ead7aa" stroke-width="1.2" stroke-dasharray="4 4.5" stroke-dashoffset="0" stroke-linecap="round"/>
<line x1="333" y1="35.3" x2="343" y2="35.3" stroke="#ead7aa" stroke-width="1.2" stroke-dasharray="4 4.5" stroke-dashoffset="3" stroke-linecap="round"/>
<line x1="343" y1="35.3" x2="353.6" y2="35.4" stroke="#ead7aa" stroke-width="1.2" stroke-dasharray="4 4.5" stroke-dashoffset="6" stroke-linecap="round"/>
<line x1="351.1" y1="35.9" x2="353.6" y2="35.9" stroke="#dcae94" stroke-width="3.00" stroke-linecap="round"/>
<path d="M313.8 56.6C315.6 54.4 315.3 54.0 318.6 53.6C321.9 53.2 321.9 53.1 323.6 55.4C325.3 57.7 325.0 57.5 323.8 60.4C322.6 63.3 322.9 63.1 320.0 64.2C317.1 65.3 317.5 64.9 315.2 63.6C312.9 62.3 313.7 62.5 313.2 60.2C312.7 57.9 312.0 58.8 313.8 56.6Z" fill="#b97824" stroke="#7e4c18" stroke-width="1.2" stroke-linejoin="round"/>
<path d="M315.9 57.3C316.7 56.4 316.6 56.2 317.9 56.0C319.3 55.8 319.3 55.8 320.0 56.8C320.8 57.7 320.6 57.6 320.1 58.9C319.6 60.1 319.7 60.0 318.5 60.5C317.3 60.9 317.5 60.8 316.5 60.2C315.6 59.7 315.9 59.8 315.7 58.8C315.5 57.8 315.2 58.2 315.9 57.3Z" fill="#d59438"/>
<path d="M315.7 60.3 Q317.9 62.5 320.7 59.9" fill="none" stroke="#7a4814" stroke-width="0.9" stroke-linecap="round"/>
<line x1="323" y1="56.95" x2="333" y2="57.15" stroke="#9a6c2a" stroke-width="3.70" stroke-linecap="round"/>
<line x1="333" y1="57.15" x2="343" y2="57.35" stroke="#9a6c2a" stroke-width="3.25" stroke-linecap="round"/>
<line x1="343" y1="57.35" x2="352" y2="57.550000000000004" stroke="#9a6c2a" stroke-width="2.80" stroke-linecap="round"/>
<line x1="323" y1="56.35" x2="333" y2="56.55" stroke="#cfa45c" stroke-width="2.90" stroke-linecap="round"/>
<line x1="333" y1="56.55" x2="343" y2="56.75" stroke="#cfa45c" stroke-width="2.45" stroke-linecap="round"/>
<line x1="343" y1="56.75" x2="352" y2="56.95" stroke="#cfa45c" stroke-width="2.00" stroke-linecap="round"/>
<line x1="323" y1="56.1" x2="333" y2="56.3" stroke="#ead7aa" stroke-width="1.2" stroke-dasharray="4 4.5" stroke-dashoffset="0" stroke-linecap="round"/>
<line x1="333" y1="56.3" x2="343" y2="56.5" stroke="#ead7aa" stroke-width="1.2" stroke-dasharray="4 4.5" stroke-dashoffset="3" stroke-linecap="round"/>
<line x1="343" y1="56.5" x2="352" y2="56.7" stroke="#ead7aa" stroke-width="1.2" stroke-dasharray="4 4.5" stroke-dashoffset="6" stroke-linecap="round"/>
<line x1="349.5" y1="57.2" x2="352" y2="57.2" stroke="#dcae94" stroke-width="2.80" stroke-linecap="round"/>
<path d="M312.4 76.4C314.5 74.3 314.1 73.5 318.0 73.2C321.9 72.9 319.8 74.0 324.0 75.4C328.2 76.8 328.8 75.4 330.6 77.4C332.4 79.4 332.3 79.4 329.4 81.4C326.5 83.4 327.0 83.1 322.0 83.4C317.0 83.7 317.9 83.7 314.4 82.4C310.9 81.1 312.3 81.6 311.6 79.6C310.9 77.6 310.3 78.5 312.4 76.4Z" fill="#b97824" stroke="#7e4c18" stroke-width="1.2" stroke-linejoin="round"/>
<path d="M316.5 76.9C317.4 76.0 317.2 75.7 318.8 75.6C320.5 75.4 319.6 75.9 321.4 76.5C323.1 77.1 323.4 76.5 324.1 77.3C324.9 78.2 324.8 78.2 323.6 79.0C322.4 79.8 322.6 79.7 320.5 79.8C318.4 80.0 318.8 80.0 317.3 79.4C315.9 78.9 316.4 79.1 316.1 78.2C315.9 77.4 315.6 77.8 316.5 76.9Z" fill="#d59438"/>
<path d="M317.7 79.9 Q319.9 82.1 322.7 79.5" fill="none" stroke="#7a4814" stroke-width="0.9" stroke-linecap="round"/>
<line x1="324" y1="74.35" x2="330" y2="72.94999999999999" stroke="#9a6c2a" stroke-width="4.50" stroke-linecap="round"/>
<line x1="330" y1="72.94999999999999" x2="340" y2="73.75" stroke="#9a6c2a" stroke-width="4.20" stroke-linecap="round"/>
<line x1="340" y1="73.75" x2="355" y2="74.35" stroke="#9a6c2a" stroke-width="3.90" stroke-linecap="round"/>
<line x1="355" y1="74.35" x2="371" y2="74.94999999999999" stroke="#9a6c2a" stroke-width="3.60" stroke-linecap="round"/>
<line x1="324" y1="73.75" x2="330" y2="72.35" stroke="#cfa45c" stroke-width="3.70" stroke-linecap="round"/>
<line x1="330" y1="72.35" x2="340" y2="73.15" stroke="#cfa45c" stroke-width="3.40" stroke-linecap="round"/>
<line x1="340" y1="73.15" x2="355" y2="73.75" stroke="#cfa45c" stroke-width="3.10" stroke-linecap="round"/>
<line x1="355" y1="73.75" x2="371" y2="74.35" stroke="#cfa45c" stroke-width="2.80" stroke-linecap="round"/>
<line x1="324" y1="73.5" x2="330" y2="72.1" stroke="#ead7aa" stroke-width="1.2" stroke-dasharray="4 4.5" stroke-dashoffset="0" stroke-linecap="round"/>
<line x1="330" y1="72.1" x2="340" y2="72.9" stroke="#ead7aa" stroke-width="1.2" stroke-dasharray="4 4.5" stroke-dashoffset="3" stroke-linecap="round"/>
<line x1="340" y1="72.9" x2="355" y2="73.5" stroke="#ead7aa" stroke-width="1.2" stroke-dasharray="4 4.5" stroke-dashoffset="6" stroke-linecap="round"/>
<line x1="355" y1="73.5" x2="371" y2="74.1" stroke="#ead7aa" stroke-width="1.2" stroke-dasharray="4 4.5" stroke-dashoffset="9" stroke-linecap="round"/>
<line x1="368.5" y1="74.6" x2="371" y2="74.6" stroke="#dcae94" stroke-width="3.60" stroke-linecap="round"/>
<path d="M313.6 91.4C315.6 88.5 315.0 89.0 319.0 88.4C323.0 87.8 322.7 87.6 325.6 89.6C328.5 91.6 327.4 90.9 327.8 94.4C328.2 97.9 328.9 97.0 326.8 100.2C324.7 103.4 325.3 103.2 321.6 104.0C317.9 104.8 318.5 104.9 315.6 102.6C312.7 100.3 313.7 100.7 313.0 97.0C312.3 93.3 311.6 94.3 313.6 91.4Z" fill="#b97824" stroke="#7e4c18" stroke-width="1.2" stroke-linejoin="round"/>
<path d="M317.0 93.2C317.9 92.0 317.6 92.2 319.3 92.0C321.0 91.7 320.8 91.6 322.1 92.5C323.3 93.3 322.8 93.0 323.0 94.5C323.2 96.0 323.4 95.6 322.6 96.9C321.7 98.3 322.0 98.2 320.4 98.5C318.8 98.9 319.1 98.9 317.9 97.9C316.7 97.0 317.1 97.2 316.8 95.6C316.5 94.0 316.2 94.4 317.0 93.2Z" fill="#d59438"/>
<path d="M317.8 97.2 Q320.0 99.4 322.8 96.8" fill="none" stroke="#7a4814" stroke-width="0.9" stroke-linecap="round"/>
<line x1="327" y1="91.35" x2="340" y2="91.14999999999999" stroke="#9a6c2a" stroke-width="3.90" stroke-linecap="round"/>
<line x1="340" y1="91.14999999999999" x2="355" y2="91.35" stroke="#9a6c2a" stroke-width="3.35" stroke-linecap="round"/>
<line x1="355" y1="91.35" x2="371" y2="91.55" stroke="#9a6c2a" stroke-width="2.80" stroke-linecap="round"/>
<line x1="327" y1="90.75" x2="340" y2="90.55" stroke="#cfa45c" stroke-width="3.10" stroke-linecap="round"/>
<line x1="340" y1="90.55" x2="355" y2="90.75" stroke="#cfa45c" stroke-width="2.55" stroke-linecap="round"/>
<line x1="355" y1="90.75" x2="371" y2="90.95" stroke="#cfa45c" stroke-width="2.00" stroke-linecap="round"/>
<line x1="327" y1="90.5" x2="340" y2="90.3" stroke="#ead7aa" stroke-width="1.2" stroke-dasharray="4 4.5" stroke-dashoffset="0" stroke-linecap="round"/>
<line x1="340" y1="90.3" x2="355" y2="90.5" stroke="#ead7aa" stroke-width="1.2" stroke-dasharray="4 4.5" stroke-dashoffset="3" stroke-linecap="round"/>
<line x1="355" y1="90.5" x2="371" y2="90.7" stroke="#ead7aa" stroke-width="1.2" stroke-dasharray="4 4.5" stroke-dashoffset="6" stroke-linecap="round"/>
<line x1="368.5" y1="91.2" x2="371" y2="91.2" stroke="#dcae94" stroke-width="2.80" stroke-linecap="round"/>
<path d="M312.6 112.6C314.8 110.5 314.4 110.1 318.6 109.6C322.8 109.1 322.2 109.2 325.2 111.2C328.2 113.2 327.5 112.6 327.6 115.6C327.7 118.6 328.4 118.2 325.6 120.2C322.8 122.2 323.2 121.7 319.2 121.6C315.2 121.5 316.0 121.9 313.6 120.0C311.2 118.1 312.3 118.5 312.0 116.0C311.7 113.5 310.4 114.7 312.6 112.6Z" fill="#b97824" stroke="#7e4c18" stroke-width="1.2" stroke-linejoin="round"/>
<path d="M316.0 113.7C316.9 112.8 316.7 112.6 318.5 112.4C320.3 112.2 320.0 112.3 321.3 113.1C322.5 113.9 322.2 113.7 322.3 114.9C322.3 116.2 322.6 116.0 321.4 116.9C320.3 117.7 320.4 117.5 318.8 117.5C317.1 117.4 317.4 117.6 316.4 116.8C315.4 116.0 315.9 116.1 315.7 115.1C315.6 114.1 315.1 114.6 316.0 113.7Z" fill="#d59438"/>
<path d="M316.7 117.0 Q318.9 119.2 321.7 116.6" fill="none" stroke="#7a4814" stroke-width="0.9" stroke-linecap="round"/>
<line x1="327" y1="112.94999999999999" x2="340" y2="113.35" stroke="#9a6c2a" stroke-width="4.10" stroke-linecap="round"/>
<line x1="340" y1="113.35" x2="356" y2="114.14999999999999" stroke="#9a6c2a" stroke-width="3.65" stroke-linecap="round"/>
<line x1="356" y1="114.14999999999999" x2="371.4" y2="115.35" stroke="#9a6c2a" stroke-width="3.20" stroke-linecap="round"/>
<line x1="327" y1="112.35" x2="340" y2="112.75" stroke="#cfa45c" stroke-width="3.30" stroke-linecap="round"/>
<line x1="340" y1="112.75" x2="356" y2="113.55" stroke="#cfa45c" stroke-width="2.85" stroke-linecap="round"/>
<line x1="356" y1="113.55" x2="371.4" y2="114.75" stroke="#cfa45c" stroke-width="2.40" stroke-linecap="round"/>
<line x1="327" y1="112.1" x2="340" y2="112.5" stroke="#ead7aa" stroke-width="1.2" stroke-dasharray="4 4.5" stroke-dashoffset="0" stroke-linecap="round"/>
<line x1="340" y1="112.5" x2="356" y2="113.3" stroke="#ead7aa" stroke-width="1.2" stroke-dasharray="4 4.5" stroke-dashoffset="3" stroke-linecap="round"/>
<line x1="356" y1="113.3" x2="371.4" y2="114.5" stroke="#ead7aa" stroke-width="1.2" stroke-dasharray="4 4.5" stroke-dashoffset="6" stroke-linecap="round"/>
<line x1="368.9" y1="115.0" x2="371.4" y2="115.0" stroke="#dcae94" stroke-width="3.20" stroke-linecap="round"/>
</g>
<text x="364.6" y="122.4" text-anchor="middle" font-size="9" style="fill:#10204a;stroke:#10204a;stroke-width:0.25px">1cm</text>
<line x1="359.40" y1="124.60" x2="371.80" y2="124.60" stroke="#0a1540" stroke-width="2.0" />
<line x1="424.30" y1="27.40" x2="424.30" y2="119.00" stroke="#000" stroke-width="1.35" />
<line x1="423.70" y1="118.40" x2="467.20" y2="118.40" stroke="#000" stroke-width="1.35" />
<line x1="421.30" y1="118.40" x2="424.30" y2="118.40" stroke="#000" stroke-width="1.35" />
<text x="416.4" y="121.4" text-anchor="end" font-size="9.3" >0</text>
<line x1="421.30" y1="100.32" x2="424.30" y2="100.32" stroke="#000" stroke-width="1.35" />
<text x="416.4" y="103.32000000000001" text-anchor="end" font-size="9.3" >2</text>
<line x1="421.30" y1="82.24" x2="424.30" y2="82.24" stroke="#000" stroke-width="1.35" />
<text x="416.4" y="85.24000000000001" text-anchor="end" font-size="9.3" >4</text>
<line x1="421.30" y1="64.16" x2="424.30" y2="64.16" stroke="#000" stroke-width="1.35" />
<text x="416.4" y="67.16000000000001" text-anchor="end" font-size="9.3" >6</text>
<line x1="421.30" y1="46.08" x2="424.30" y2="46.08" stroke="#000" stroke-width="1.35" />
<text x="416.4" y="49.08000000000001" text-anchor="end" font-size="9.3" >8</text>
<line x1="421.30" y1="28.00" x2="424.30" y2="28.00" stroke="#000" stroke-width="1.35" />
<text x="416.4" y="31.000000000000014" text-anchor="end" font-size="9.3" >10</text>
<line x1="435.30" y1="118.40" x2="435.30" y2="121.40" stroke="#000" stroke-width="1.35" />
<line x1="456.00" y1="118.40" x2="456.00" y2="121.40" stroke="#000" stroke-width="1.35" />
<text transform="translate(401.8 71.6) rotate(-90)" text-anchor="middle" font-size="9" >Colon length (cm)</text>
<circle cx="435.3" cy="46.7" r="1.9" fill="#000"/>
<circle cx="433.4" cy="57.6" r="1.9" fill="#000"/>
<circle cx="436.0" cy="59.8" r="1.9" fill="#000"/>
<circle cx="437.6" cy="66.8" r="1.9" fill="#000"/>
<circle cx="435.4" cy="68.6" r="1.9" fill="#000"/>
<line x1="428.40" y1="60.30" x2="442.80" y2="60.30" stroke="#000" stroke-width="1.0" />
<line x1="435.40" y1="56.20" x2="435.40" y2="64.20" stroke="#000" stroke-width="0.9" />
<line x1="431.60" y1="56.20" x2="439.20" y2="56.20" stroke="#000" stroke-width="0.9" />
<line x1="431.60" y1="64.20" x2="439.20" y2="64.20" stroke="#000" stroke-width="0.9" />
<rect x="452.59999999999997" y="72.0" width="3.6" height="3.6" fill="#000"/>
<rect x="457.09999999999997" y="71.2" width="3.6" height="3.6" fill="#000"/>
<rect x="454.8" y="75.8" width="3.6" height="3.6" fill="#000"/>
<rect x="457.4" y="82.10000000000001" width="3.6" height="3.6" fill="#000"/>
<rect x="454.3" y="86.7" width="3.6" height="3.6" fill="#000"/>
<line x1="449.30" y1="79.40" x2="463.50" y2="79.40" stroke="#000" stroke-width="1.0" />
<line x1="456.50" y1="75.50" x2="456.50" y2="83.00" stroke="#000" stroke-width="0.9" />
<line x1="453.00" y1="75.50" x2="460.00" y2="75.50" stroke="#000" stroke-width="0.9" />
<line x1="453.00" y1="83.00" x2="460.00" y2="83.00" stroke="#000" stroke-width="0.9" />
<line x1="439.80" y1="39.20" x2="458.00" y2="39.20" stroke="#000" stroke-width="1.5" />
<text x="449.70" y="36.10" text-anchor="middle" font-size="8.2" style="stroke-width:0.35px">*</text>
<text transform="translate(439.4 131.6) rotate(-45)" text-anchor="end" font-size="9" >WT</text>
<text transform="translate(459.6 133.4) rotate(-45)" text-anchor="end" font-size="9.2" >Uhrf1<tspan dy="-3.1" font-size="6.5" style="stroke-width:0.08px">fl/fl</tspan><tspan dy="3.1">Lyz2-Cre</tspan></text>
<text transform="translate(191.8 178.7) scale(0.97 1)" font-size="19.6" style="stroke-width:0.3px">D</text>
<text x="258.2" y="193.0" text-anchor="middle" font-size="9" style="stroke-width:0.5px">WT</text>
<text x="354.0" y="192.6" text-anchor="middle" font-size="9" style="stroke-width:0.5px">Uhrf1<tspan dy="-3.1" font-size="6.5" style="stroke-width:0.08px">fl/fl</tspan><tspan dy="3.1">Lyz2-Cre</tspan></text>
<defs>
<clipPath id="hc0"><rect x="204.9" y="201.6" width="107.0" height="80.0"/></clipPath>
<clipPath id="hc1"><rect x="315.2" y="201.6" width="107.8" height="80.0"/></clipPath>
<clipPath id="hc2"><rect x="204.9" y="284.8" width="107.0" height="80.6"/></clipPath>
<clipPath id="hc3"><rect x="315.2" y="284.8" width="107.8" height="80.6"/></clipPath>
<radialGradient id="gbg" cx="0.5" cy="0.5" r="0.75"><stop offset="0" stop-color="#f0f0f0"/><stop offset="0.6" stop-color="#eaeaea"/><stop offset="1" stop-color="#dadada"/></radialGradient>
</defs>
<g clip-path="url(#hc0)">
<rect x="204.9" y="201.6" width="107.0" height="80.0" fill="url(#gbg)"/>
<g filter="url(#b08)">
<path d="M252.6 210.6C255.5 208.7 259.9 208.1 263.2 208.2C266.5 208.3 270.0 209.5 272.5 211.1C275.0 212.7 276.7 215.3 278.5 217.6C280.3 219.9 281.8 222.5 283.4 224.9C285.0 227.4 287.0 229.3 287.9 232.2C288.8 235.1 288.9 239.0 288.7 242.2C288.5 245.4 287.7 248.8 286.6 251.5C285.5 254.1 283.9 256.2 282.1 258.1C280.3 260.0 277.9 261.5 275.8 262.9C273.8 264.3 271.7 265.2 269.8 266.4C268.0 267.5 267.0 268.9 264.8 269.8C262.6 270.7 259.7 271.7 256.6 271.9C253.4 272.2 249.0 271.9 245.9 271.1C242.8 270.3 240.0 269.1 238.0 267.2C235.9 265.2 234.4 262.3 233.6 259.4C232.8 256.6 232.9 253.3 233.3 250.2C233.7 247.1 234.9 244.2 236.0 240.9C237.1 237.5 238.3 233.8 240.0 230.2C241.6 226.7 243.8 222.9 245.9 219.6C248.0 216.3 249.7 212.5 252.6 210.6Z" fill="#f0e2ea" stroke="#ea94ba" stroke-width="2.3"/>
</g>
<g filter="url(#tex)">
<path d="M256.6 217.0C259.7 216.0 260.6 214.6 264.5 215.4C268.4 216.1 268.5 216.6 271.2 219.9C273.8 223.1 271.7 223.9 274.5 227.6C277.3 231.2 279.3 229.7 281.8 233.6C284.3 237.4 283.8 237.8 283.8 242.2C283.8 246.6 283.4 247.2 281.8 250.2C280.2 253.1 279.9 253.4 277.8 253.1C275.7 252.7 276.1 250.1 273.8 248.8C271.5 247.5 271.3 247.1 269.2 248.2C267.1 249.2 267.2 249.8 265.9 252.8C264.5 255.8 265.5 256.1 264.3 259.4C263.0 262.8 264.0 263.3 261.2 265.4C258.4 267.5 258.3 267.5 253.9 267.4C249.5 267.3 248.8 267.5 244.6 265.0C240.4 262.5 239.9 262.4 238.2 258.1C236.5 253.8 236.9 252.4 238.2 248.8C239.6 245.3 239.8 246.3 243.3 244.8C246.8 243.4 247.7 244.6 251.2 243.5C254.8 242.5 255.5 242.6 256.6 240.9C257.6 239.1 257.2 238.5 255.2 236.9C253.3 235.3 251.5 236.7 249.3 234.9C247.1 233.1 247.2 233.2 247.0 230.2C246.8 227.2 247.1 226.6 248.6 223.6C250.1 220.6 250.5 220.7 252.6 218.9C254.7 217.2 253.4 217.9 256.6 217.0Z" fill="#eeecef" stroke="#9560b4" stroke-width="7.0" stroke-linejoin="round"/>
</g>
<rect x="233.8" y="240.7" width="42.2" height="30.6" fill="none" stroke="#15151c" stroke-width="1.1"/>
<line x1="302.80" y1="277.20" x2="309.20" y2="277.20" stroke="#000" stroke-width="1.8" />
<circle cx="219" cy="263" r="0.6" fill="#b8a8c4"/>
<circle cx="224" cy="257" r="0.6" fill="#b8a8c4"/>
<circle cx="297" cy="236" r="0.6" fill="#b8a8c4"/>
<circle cx="300" cy="208" r="0.6" fill="#b8a8c4"/>
</g>
<g clip-path="url(#hc1)">
<rect x="315.2" y="201.6" width="107.8" height="80.0" fill="url(#gbg)"/>
<g filter="url(#tex)">
<path d="M329.8 222.0C329.5 218.9 330.5 215.8 332.4 213.4C334.3 210.9 337.0 208.6 341.0 207.3C345.1 206.0 351.4 205.6 356.6 205.6C361.8 205.6 367.3 206.0 372.2 207.3C377.1 208.6 381.7 210.6 386.0 213.4C390.3 216.1 395.0 220.0 398.1 223.8C401.3 227.5 403.7 231.3 405.0 235.9C406.4 240.5 406.7 246.5 406.1 251.4C405.5 256.3 403.8 261.2 401.6 265.3C399.4 269.3 396.4 273.4 392.9 275.7C389.5 278.0 384.9 279.0 380.8 279.1C376.8 279.3 372.5 278.3 368.7 276.5C365.0 274.8 361.2 272.1 358.3 268.7C355.4 265.4 353.1 260.4 351.4 256.6C349.7 252.9 349.4 249.0 348.0 246.3C346.5 243.5 345.1 242.5 342.8 240.2C340.5 237.9 336.3 235.4 334.1 232.4C331.9 229.4 330.1 225.2 329.8 222.0Z" fill="#d9a2cc" stroke="#ea94ba" stroke-width="2.8"/>
<path d="M345.4 223.4C347.0 221.8 351.2 221.1 354.0 221.2C356.8 221.3 359.9 221.4 362.1 224.1C364.4 226.8 365.6 232.5 367.3 237.6C369.1 242.7 370.6 250.5 372.5 254.9C374.5 259.3 377.5 263.9 379.1 263.9C380.7 263.9 381.6 258.4 381.9 254.9C382.1 251.4 379.8 245.6 380.8 243.1C381.8 240.7 384.9 240.1 387.7 240.0C390.6 240.0 395.9 240.3 398.1 242.8C400.4 245.3 401.5 250.6 401.2 254.9C401.0 259.2 399.0 265.3 396.7 268.7C394.5 272.2 391.3 274.3 387.7 275.7C384.2 277.0 379.4 277.3 375.6 276.7C371.9 276.1 368.4 274.7 365.3 272.2C362.1 269.7 358.7 265.6 356.6 261.8C354.5 258.1 353.6 253.7 352.4 249.7C351.3 245.7 351.1 240.8 349.7 237.6C348.3 234.4 344.9 233.0 344.1 230.7C343.4 228.3 343.7 225.0 345.4 223.4Z" fill="#8a58ae"/>
<path d="M342.4 222.4C343.0 221.3 347.2 219.1 350.5 218.6C353.9 218.1 353.4 218.7 356.9 220.3C360.5 221.9 361.6 223.1 365.6 225.5C369.6 227.9 370.7 228.8 373.9 230.7C377.1 232.5 375.4 231.9 379.4 233.4C383.5 235.0 386.4 235.6 391.2 237.3C396.0 238.9 400.2 239.7 400.2 240.4C400.2 241.0 395.3 240.2 391.2 240.0C387.1 239.9 384.7 238.2 382.6 239.7C380.4 241.1 382.6 242.7 381.9 246.3C381.1 249.8 379.3 251.1 379.4 254.9C379.6 258.7 383.1 262.1 382.6 262.5C382.0 262.9 379.0 260.4 377.0 256.6C375.0 252.8 375.2 250.7 373.9 246.3C372.6 241.8 373.0 241.2 371.5 237.6C369.9 234.0 369.5 233.6 367.3 230.7C365.1 227.8 364.8 227.1 362.1 225.1C359.5 223.2 359.2 222.9 355.9 222.4C352.6 221.9 351.1 223.1 348.0 223.1C344.8 223.1 341.8 223.4 342.4 222.4Z" fill="#f4eff5"/>
<circle cx="370.8" cy="232.8" r="2.2" fill="#8a58ae"/>
</g>
<path d="M332.7 243.1C333.5 243.4 337.0 243.7 337.2 244.5C337.5 245.4 333.8 247.2 334.1 248.3C334.5 249.5 338.9 250.3 339.3 251.4C339.7 252.5 336.2 253.7 336.5 254.9C336.9 256.1 340.3 256.3 341.4 258.4C342.4 260.4 342.0 263.6 342.8 267.0C343.6 270.5 345.6 277.1 346.2 279.1" fill="none" stroke="#e0cfe0" stroke-width="1.2" filter="url(#b05)" opacity="0.8"/>
<rect x="335.4" y="208.3" width="41.8" height="31.0" fill="none" stroke="#15151c" stroke-width="1.1"/>
</g>
<g clip-path="url(#hc2)">
<rect x="204.9" y="284.8" width="107.0" height="80.6" fill="#f6f3f6"/>
<g filter="url(#b08)">
<path d="M204.0 352.0C206.1 353.2 211.4 357.0 216.7 359.2C222.0 361.3 228.3 363.1 235.7 364.7C243.1 366.2 256.9 367.8 261.1 368.5" fill="none" stroke="#ec9fbd" stroke-width="4.6"/>
<path d="M316.1 332.1C313.1 333.2 302.7 336.2 298.1 338.8C293.6 341.5 291.4 344.3 289.0 347.7C286.7 351.1 285.4 355.5 284.0 359.2C282.6 362.8 281.1 368.0 280.6 369.7" fill="none" stroke="#ec9fbd" stroke-width="5.8"/>
<path d="M204.0 287.7C205.1 288.4 208.2 291.0 210.3 292.3C212.5 293.6 216.0 295.1 217.1 295.7" fill="none" stroke="#eeb0c8" stroke-width="3.6"/>
</g>
<g filter="url(#tex)">
<path d="M260.7 285.1C253.7 283.1 247.5 281.2 235.7 285.1C224.0 289.1 224.3 292.0 216.7 299.9C209.1 307.8 210.2 305.1 207.2 314.7C204.1 324.3 204.4 326.3 205.3 335.9C206.1 345.5 205.6 344.2 210.3 350.7C215.1 357.2 213.4 356.4 223.0 360.2C232.6 364.1 235.0 363.9 246.3 365.1C257.6 366.3 258.0 366.8 265.3 364.7C272.7 362.5 270.1 361.9 273.8 357.0C277.5 352.2 277.4 352.1 279.1 346.5C280.8 340.8 279.0 340.6 280.2 335.9C281.3 331.1 280.7 331.5 283.5 328.7C286.4 325.9 286.0 325.4 290.7 325.3C295.5 325.3 294.5 326.5 301.3 328.5C308.1 330.5 312.2 335.1 316.1 332.9C320.1 330.7 319.5 326.2 316.1 320.2C312.7 314.3 309.6 314.8 303.4 310.5C297.2 306.2 299.1 306.1 292.9 304.2C286.6 302.2 286.4 302.0 280.2 303.1C274.0 304.2 274.7 304.2 269.6 308.4C264.5 312.6 264.5 312.8 261.1 319.0C257.7 325.2 257.7 324.9 256.9 331.7C256.1 338.4 258.9 339.7 258.2 344.3C257.4 349.0 256.5 349.0 253.9 349.0C251.3 349.0 251.2 348.4 248.4 344.3C245.6 340.3 246.7 338.0 243.3 333.8C240.0 329.5 240.8 330.5 235.7 328.5C230.7 326.5 227.4 327.6 224.3 326.2C221.3 324.7 221.8 324.9 224.3 323.2C226.8 321.5 227.8 322.1 233.6 319.8C239.5 317.6 240.1 318.6 246.3 314.7C252.5 310.9 252.7 311.3 256.9 305.4C261.1 299.6 260.9 298.1 262.0 292.7C263.0 287.3 267.7 287.1 260.7 285.1Z" fill="#9863b7"/>
<path d="M301.7 284.7C304.0 282.9 313.7 280.9 316.1 284.7C318.5 288.5 317.5 304.3 316.1 307.5C314.7 310.8 309.9 306.1 307.7 304.2C305.4 302.2 303.6 298.9 302.6 295.7C301.6 292.4 299.5 286.5 301.7 284.7Z" fill="#9863b7"/>
</g>
<line x1="297.20" y1="358.20" x2="309.20" y2="358.20" stroke="#000" stroke-width="2.0" />
</g>
<g clip-path="url(#hc3)">
<rect x="315.2" y="284.8" width="107.8" height="80.6" fill="#e0a9cd"/>
<g filter="url(#tex)">
<rect x="315.2" y="284.8" width="107.8" height="80.6" fill="#e2abcf"/>
<path d="M314.0 303.1C316.1 301.9 319.6 297.6 326.7 295.7C333.7 293.8 346.8 292.1 356.3 291.5C365.8 290.8 375.7 290.8 383.8 291.9C391.9 292.9 397.9 294.7 405.0 297.8C412.0 300.9 422.6 308.4 426.1 310.5" fill="none" stroke="#efb0cb" stroke-width="10"/>
<path d="M318.2 338.0C319.6 334.5 321.8 322.1 326.7 316.8C331.6 311.6 339.4 307.7 347.8 306.3C356.3 304.9 368.3 305.9 377.5 308.4C386.6 310.9 395.1 316.5 402.9 321.1C410.6 325.7 420.5 333.4 424.0 335.9" fill="none" stroke="#cd95c6" stroke-width="14" stroke-linejoin="round"/>
<path d="M396.9 284.7C393.4 285.6 402.2 288.2 405.0 290.2C407.7 292.2 409.9 293.9 413.4 296.5C417.0 299.2 424.0 308.2 426.1 306.3C428.2 304.3 431.0 288.3 426.1 284.7C421.3 281.1 400.5 283.8 396.9 284.7Z" fill="#f7f3f7"/>
<path d="M314.0 284.7C316.8 282.9 329.3 284.5 330.5 285.5C331.7 286.6 323.9 289.3 321.2 291.0C318.4 292.8 315.2 297.2 314.0 296.1C312.8 295.1 311.2 286.5 314.0 284.7Z" fill="#f4e9f1"/>
<path d="M336.0 326.6C337.2 323.4 338.3 321.8 342.6 319.0C346.8 316.1 346.4 316.1 352.1 315.8C357.8 315.5 357.2 315.6 363.9 317.9C370.7 320.2 371.0 320.9 377.5 324.3C383.9 327.6 382.1 327.4 388.0 330.6C394.0 333.8 394.8 333.3 399.9 336.3C405.0 339.3 407.4 340.2 407.1 341.8C406.7 343.4 403.1 343.1 398.6 342.2C394.1 341.3 393.5 340.6 390.2 338.4C386.8 336.3 389.3 336.6 385.9 334.2C382.5 331.8 382.8 332.1 377.5 329.5C372.2 326.9 371.7 326.3 366.0 324.5C360.4 322.7 361.7 322.8 356.3 322.8C350.9 322.8 350.6 322.3 345.7 324.5C340.9 326.6 340.7 330.2 338.1 330.8C335.5 331.4 334.8 329.7 336.0 326.6Z" fill="#f5f0f5"/>
<path d="M340.2 328.7C341.4 324.7 344.0 326.5 350.0 325.3C355.9 324.1 356.5 322.8 362.7 324.3C368.9 325.7 368.2 326.4 373.2 330.6C378.3 334.8 377.7 334.2 381.7 340.1C385.6 346.0 386.6 345.5 388.0 352.8C389.5 360.1 396.8 363.7 387.2 367.6C377.6 371.6 362.3 371.6 352.1 367.6C341.9 363.7 350.6 360.1 348.9 352.8C347.2 345.5 348.0 346.5 345.7 340.1C343.4 333.7 339.1 332.6 340.2 328.7Z" fill="#8e5cb2"/>
<path d="M398.6 346.5C401.2 345.3 402.2 350.1 407.1 350.7C411.9 351.3 413.3 345.0 416.8 348.6C420.3 352.2 424.5 360.4 420.2 364.2C415.9 368.1 406.8 365.4 400.7 363.0C394.6 360.5 397.9 359.3 397.4 354.9C396.8 350.5 396.0 347.6 398.6 346.5Z" fill="#8a5aae"/>
<path d="M314.0 342.7C316.1 343.6 322.8 346.3 326.7 348.6C330.6 350.8 334.4 353.0 337.3 356.2C340.2 359.4 342.9 365.7 344.0 367.6" fill="none" stroke="#ee9bb9" stroke-width="6.4"/>
<path d="M314.0 356.6C315.8 355.2 321.6 359.4 324.6 361.3C327.5 363.1 333.5 366.2 331.8 367.6C330.0 369.0 317.0 371.6 314.0 369.7C311.0 367.9 312.2 358.0 314.0 356.6Z" fill="#f5ecf2"/>
</g>
<g stroke="#cdb4dd" stroke-width="0.7" opacity="0.8" filter="url(#b05)">
<line x1="354.2" y1="363.4" x2="363.1" y2="328.5"/>
<line x1="359.5" y1="364.4" x2="367.9" y2="330.6"/>
<line x1="364.8" y1="365.5" x2="373.2" y2="334.8"/>
<line x1="370.1" y1="365.5" x2="378.5" y2="341.2"/>
<line x1="375.3" y1="365.5" x2="382.8" y2="346.5"/>
</g>
</g>
<rect x="204.9" y="201.6" width="107.0" height="80.0" fill="none" stroke="#454545" stroke-width="1.5"/>
<rect x="315.2" y="201.6" width="107.8" height="80.0" fill="none" stroke="#454545" stroke-width="1.5"/>
<rect x="204.9" y="284.8" width="107.0" height="80.6" fill="none" stroke="#454545" stroke-width="1.5"/>
<rect x="315.2" y="284.8" width="107.8" height="80.6" fill="none" stroke="#454545" stroke-width="1.5"/>
<rect x="473.6" y="277.74" width="16.0" height="38.06" fill="#fff" stroke="#000" stroke-width="1.3"/>
<rect x="498.0" y="223.25" width="16.4" height="92.56" fill="#111" stroke="#000" stroke-width="1.0"/>
<line x1="481.60" y1="264.70" x2="481.60" y2="277.74" stroke="#000" stroke-width="1.0" />
<line x1="477.20" y1="264.70" x2="486.00" y2="264.70" stroke="#000" stroke-width="1.1" />
<line x1="506.20" y1="219.70" x2="506.20" y2="223.25" stroke="#000" stroke-width="1.0" />
<line x1="502.60" y1="219.70" x2="510.40" y2="219.70" stroke="#000" stroke-width="1.1" />
<line x1="469.80" y1="211.40" x2="469.80" y2="316.40" stroke="#000" stroke-width="1.35" />
<line x1="469.20" y1="315.80" x2="520.00" y2="315.80" stroke="#000" stroke-width="1.35" />
<line x1="466.80" y1="315.80" x2="469.80" y2="315.80" stroke="#000" stroke-width="1.35" />
<text x="461.4" y="318.6" text-anchor="end" font-size="9.3" >0</text>
<line x1="466.80" y1="281.20" x2="469.80" y2="281.20" stroke="#000" stroke-width="1.35" />
<text x="461.4" y="284.0" text-anchor="end" font-size="9.3" >2</text>
<line x1="466.80" y1="246.60" x2="469.80" y2="246.60" stroke="#000" stroke-width="1.35" />
<text x="461.4" y="249.40000000000003" text-anchor="end" font-size="9.3" >4</text>
<line x1="466.80" y1="212.00" x2="469.80" y2="212.00" stroke="#000" stroke-width="1.35" />
<text x="461.4" y="214.8" text-anchor="end" font-size="9.3" >6</text>
<line x1="481.60" y1="315.80" x2="481.60" y2="318.80" stroke="#000" stroke-width="1.35" />
<line x1="506.20" y1="315.80" x2="506.20" y2="318.80" stroke="#000" stroke-width="1.35" />
<text x="506.00" y="216.30" text-anchor="middle" font-size="8.2" style="stroke-width:0.35px">*</text>
<text transform="translate(450.4 264.0) rotate(-90)" text-anchor="middle" font-size="9" >Histological analysis</text>
<text transform="translate(484.5 329.0) rotate(-45)" text-anchor="end" font-size="9" >WT</text>
<text transform="translate(508.8 331.0) rotate(-45)" text-anchor="end" font-size="9.2" >Uhrf1<tspan dy="-3.1" font-size="6.5" style="stroke-width:0.08px">fl/fl</tspan><tspan dy="3.1">Lyz2-Cre</tspan></text>
<text transform="translate(0.6 366.8) scale(0.97 1)" font-size="19.6" style="stroke-width:0.3px">E</text>
<rect x="68.20" y="415.30" width="10.0" height="67.40" fill="#fff" stroke="#000" stroke-width="1.25"/>
<line x1="73.20" y1="412.70" x2="73.20" y2="415.30" stroke="#000" stroke-width="0.9" />
<line x1="70.40" y1="412.70" x2="76.00" y2="412.70" stroke="#000" stroke-width="1.0" />
<rect x="82.80" y="416.00" width="10.0" height="66.70" fill="url(#pX)" stroke="#000" stroke-width="1.25"/>
<line x1="87.80" y1="415.20" x2="87.80" y2="416.00" stroke="#000" stroke-width="0.9" />
<line x1="85.00" y1="415.20" x2="90.60" y2="415.20" stroke="#000" stroke-width="1.0" />
<rect x="97.30" y="444.60" width="10.0" height="38.10" fill="url(#pH)" stroke="#000" stroke-width="1.25"/>
<line x1="102.30" y1="444.00" x2="102.30" y2="444.60" stroke="#000" stroke-width="0.9" />
<line x1="99.50" y1="444.00" x2="105.10" y2="444.00" stroke="#000" stroke-width="1.0" />
<rect x="111.80" y="456.20" width="10.0" height="26.50" fill="url(#pV)" stroke="#000" stroke-width="1.25"/>
<line x1="116.80" y1="455.80" x2="116.80" y2="456.20" stroke="#000" stroke-width="0.9" />
<line x1="114.00" y1="455.80" x2="119.60" y2="455.80" stroke="#000" stroke-width="1.0" />
<rect x="135.40" y="415.30" width="10.0" height="67.40" fill="#fff" stroke="#000" stroke-width="1.25"/>
<line x1="140.40" y1="414.30" x2="140.40" y2="415.30" stroke="#000" stroke-width="0.9" />
<line x1="137.60" y1="414.30" x2="143.20" y2="414.30" stroke="#000" stroke-width="1.0" />
<rect x="149.60" y="415.30" width="10.0" height="67.40" fill="url(#pX)" stroke="#000" stroke-width="1.25"/>
<line x1="154.60" y1="414.30" x2="154.60" y2="415.30" stroke="#000" stroke-width="0.9" />
<line x1="151.80" y1="414.30" x2="157.40" y2="414.30" stroke="#000" stroke-width="1.0" />
<rect x="164.00" y="433.40" width="10.0" height="49.30" fill="url(#pH)" stroke="#000" stroke-width="1.25"/>
<line x1="169.00" y1="432.90" x2="169.00" y2="433.40" stroke="#000" stroke-width="0.9" />
<line x1="166.20" y1="432.90" x2="171.80" y2="432.90" stroke="#000" stroke-width="1.0" />
<rect x="178.40" y="440.80" width="10.0" height="41.90" fill="url(#pV)" stroke="#000" stroke-width="1.25"/>
<line x1="183.40" y1="440.30" x2="183.40" y2="440.80" stroke="#000" stroke-width="0.9" />
<line x1="180.60" y1="440.30" x2="186.20" y2="440.30" stroke="#000" stroke-width="1.0" />
<rect x="201.80" y="415.50" width="10.0" height="67.20" fill="#fff" stroke="#000" stroke-width="1.25"/>
<line x1="206.80" y1="414.10" x2="206.80" y2="415.50" stroke="#000" stroke-width="0.9" />
<line x1="204.00" y1="414.10" x2="209.60" y2="414.10" stroke="#000" stroke-width="1.0" />
<rect x="216.20" y="415.50" width="10.0" height="67.20" fill="url(#pX)" stroke="#000" stroke-width="1.25"/>
<line x1="221.20" y1="414.10" x2="221.20" y2="415.50" stroke="#000" stroke-width="0.9" />
<line x1="218.40" y1="414.10" x2="224.00" y2="414.10" stroke="#000" stroke-width="1.0" />
<rect x="230.80" y="471.00" width="10.0" height="11.70" fill="url(#pH)" stroke="#000" stroke-width="1.25"/>
<line x1="235.80" y1="470.20" x2="235.80" y2="471.00" stroke="#000" stroke-width="0.9" />
<line x1="233.00" y1="470.20" x2="238.60" y2="470.20" stroke="#000" stroke-width="1.0" />
<rect x="245.00" y="480.40" width="10.0" height="2.30" fill="url(#pV)" stroke="#000" stroke-width="1.25"/>
<line x1="250.00" y1="479.60" x2="250.00" y2="480.40" stroke="#000" stroke-width="0.9" />
<line x1="247.20" y1="479.60" x2="252.80" y2="479.60" stroke="#000" stroke-width="1.0" />
<rect x="268.40" y="415.50" width="10.0" height="67.20" fill="#fff" stroke="#000" stroke-width="1.25"/>
<line x1="273.40" y1="414.90" x2="273.40" y2="415.50" stroke="#000" stroke-width="0.9" />
<line x1="270.60" y1="414.90" x2="276.20" y2="414.90" stroke="#000" stroke-width="1.0" />
<rect x="282.80" y="413.60" width="10.0" height="69.10" fill="url(#pX)" stroke="#000" stroke-width="1.25"/>
<line x1="287.80" y1="413.00" x2="287.80" y2="413.60" stroke="#000" stroke-width="0.9" />
<line x1="285.00" y1="413.00" x2="290.60" y2="413.00" stroke="#000" stroke-width="1.0" />
<rect x="297.20" y="445.80" width="10.0" height="36.90" fill="url(#pH)" stroke="#000" stroke-width="1.25"/>
<line x1="302.20" y1="445.30" x2="302.20" y2="445.80" stroke="#000" stroke-width="0.9" />
<line x1="299.40" y1="445.30" x2="305.00" y2="445.30" stroke="#000" stroke-width="1.0" />
<rect x="311.60" y="454.40" width="10.0" height="28.30" fill="url(#pV)" stroke="#000" stroke-width="1.25"/>
<line x1="316.60" y1="453.90" x2="316.60" y2="454.40" stroke="#000" stroke-width="0.9" />
<line x1="313.80" y1="453.90" x2="319.40" y2="453.90" stroke="#000" stroke-width="1.0" />
<line x1="61.50" y1="393.00" x2="61.50" y2="483.30" stroke="#000" stroke-width="1.35" />
<line x1="60.90" y1="482.70" x2="330.40" y2="482.70" stroke="#000" stroke-width="1.3" />
<line x1="56.50" y1="393.60" x2="61.50" y2="393.60" stroke="#000" stroke-width="1.35" />
<text x="51.7" y="396.6" text-anchor="end" font-size="9" >32</text>
<line x1="56.50" y1="415.90" x2="61.50" y2="415.90" stroke="#000" stroke-width="1.35" />
<text x="51.7" y="418.9" text-anchor="end" font-size="9" >1</text>
<line x1="56.50" y1="438.20" x2="61.50" y2="438.20" stroke="#000" stroke-width="1.35" />
<text x="51.7" y="441.2" text-anchor="end" font-size="9" >3.1E-2</text>
<line x1="56.50" y1="460.40" x2="61.50" y2="460.40" stroke="#000" stroke-width="1.35" />
<text x="51.7" y="463.4" text-anchor="end" font-size="9" >9.8E-4</text>
<line x1="56.50" y1="482.70" x2="61.50" y2="482.70" stroke="#000" stroke-width="1.35" />
<text x="51.7" y="485.7" text-anchor="end" font-size="9" >3.1E-5</text>
<line x1="94.40" y1="482.70" x2="94.40" y2="485.70" stroke="#000" stroke-width="1.35" />
<line x1="160.90" y1="482.70" x2="160.90" y2="485.70" stroke="#000" stroke-width="1.35" />
<line x1="227.80" y1="482.70" x2="227.80" y2="485.70" stroke="#000" stroke-width="1.35" />
<line x1="294.40" y1="482.70" x2="294.40" y2="485.70" stroke="#000" stroke-width="1.35" />
<text transform="translate(14.3 436.8) rotate(-90)" text-anchor="middle" font-size="9.05" >Relative mRNA level (log2)</text>
<line x1="70.90" y1="407.90" x2="89.40" y2="407.90" stroke="#000" stroke-width="1.5" />
<text x="80.45" y="401.9" text-anchor="middle" font-size="9" >N.S.</text>
<line x1="137.40" y1="408.40" x2="156.60" y2="408.40" stroke="#000" stroke-width="1.5" />
<text x="147.3" y="402.4" text-anchor="middle" font-size="9" >N.S.</text>
<line x1="204.30" y1="408.00" x2="222.90" y2="408.00" stroke="#000" stroke-width="1.5" />
<text x="213.90000000000003" y="402.0" text-anchor="middle" font-size="9" >N.S.</text>
<line x1="271.00" y1="408.80" x2="289.40" y2="408.80" stroke="#000" stroke-width="1.5" />
<text x="280.5" y="402.8" text-anchor="middle" font-size="9" >N.S.</text>
<line x1="100.80" y1="439.40" x2="119.30" y2="439.40" stroke="#000" stroke-width="1.5" />
<text x="110.45" y="436.59" text-anchor="middle" font-size="7.3" style="stroke-width:0.35px">*</text>
<line x1="168.80" y1="428.40" x2="187.20" y2="428.40" stroke="#000" stroke-width="1.5" />
<text x="178.40" y="425.59" text-anchor="middle" font-size="7.3" style="stroke-width:0.35px">*</text>
<line x1="233.80" y1="465.70" x2="252.20" y2="465.70" stroke="#000" stroke-width="1.5" />
<text x="243.40" y="462.89" text-anchor="middle" font-size="7.3" style="stroke-width:0.35px">*</text>
<line x1="299.80" y1="439.20" x2="318.70" y2="439.20" stroke="#000" stroke-width="1.5" />
<text x="309.65" y="436.39" text-anchor="middle" font-size="7.3" style="stroke-width:0.35px">*</text>
<text transform="translate(96.5 498.8) rotate(-45)" text-anchor="end" font-size="9" >Zo1</text>
<text transform="translate(163.1 498.8) rotate(-45)" text-anchor="end" font-size="9" >Tricellulin</text>
<text transform="translate(230.1 498.8) rotate(-45)" text-anchor="end" font-size="9" >Claudin5</text>
<text transform="translate(295.5 498.8) rotate(-45)" text-anchor="end" font-size="9" >Claudin10</text>
<rect x="332.9" y="397.85" width="9.1" height="4.5" fill="#fff" stroke="#000" stroke-width="1.2"/>
<text x="349.5" y="401.1" text-anchor="start" font-size="9" >WT steady state</text>
<rect x="332.9" y="407.65" width="9.1" height="4.5" fill="url(#pX)" stroke="#000" stroke-width="1.2"/>
<text x="349.5" y="411.8" text-anchor="start" font-size="9" >Uhrf1<tspan dy="-3.1" font-size="6.5" style="stroke-width:0.08px">fl/fl</tspan><tspan dy="3.1">Lyz2-Cre</tspan> steady state</text>
<rect x="332.9" y="417.85" width="9.1" height="4.5" fill="url(#pH)" stroke="#000" stroke-width="1.2"/>
<text x="349.5" y="423.1" text-anchor="start" font-size="9" >WT</text>
<rect x="332.9" y="427.85" width="9.1" height="4.5" fill="url(#pV)" stroke="#000" stroke-width="1.2"/>
<text x="349.5" y="433.4" text-anchor="start" font-size="9" >Uhrf1<tspan dy="-3.1" font-size="6.5" style="stroke-width:0.08px">fl/fl</tspan><tspan dy="3.1">Lyz2-Cre</tspan></text>
</svg></body></html>
